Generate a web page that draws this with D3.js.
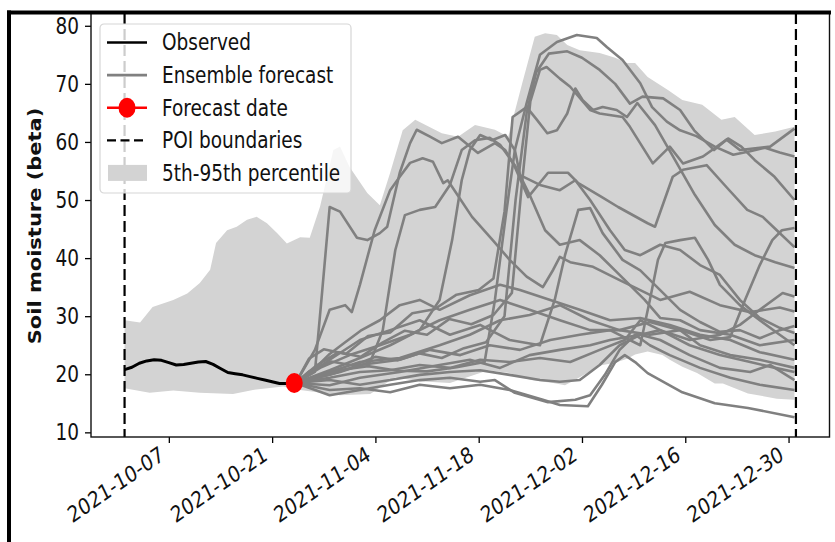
<!DOCTYPE html>
<html>
<head>
<meta charset="utf-8">
<script src="https://cdn.jsdelivr.net/npm/d3@7"></script>
<style>
  body { margin: 0; background: #fff; }
  svg { display: block; font-family: "DejaVu Sans", sans-serif; }
</style>
</head>
<body>
<svg id="chart" width="835" height="542"></svg>
<script>
// period of interest and the forecast issue date
const poiStart = '2021-10-01'
const poiEnd = '2021-12-31'
const forecastDate = '2021-10-24'
const forecastValue = 18.5

// observed soil moisture, one value per day from poiStart
const observed = [20.8, 21.2, 21.9, 22.3, 22.5, 22.4, 22.0, 21.6, 21.7, 21.9, 22.1, 22.2,
  21.7, 21.0, 20.3, 20.1, 19.9, 19.6, 19.3, 19.0, 18.7, 18.4, 18.4, 18.5]

// 5th-95th percentile envelope, [days since poiStart, value]
const bandUpper = [[0, 29.3], [2.1, 28.9], [3.8, 31.6], [6.6, 32.8], [8.5, 33.9], [10.2, 35.7],
  [11.6, 38], [12.4, 42.6], [13.9, 44.8], [15.2, 45.4], [16.6, 46.6], [17.9, 47.1], [19.3, 46],
  [20.7, 44.3], [22, 42.5], [23.8, 43.6], [25.1, 43.5], [26.5, 48.9], [28.3, 58.6], [29.2, 59.2],
  [30.5, 55.7], [32.9, 51.2], [34.6, 49.1], [36, 54.7], [37.7, 62], [39.4, 63.8], [43, 61.5],
  [45.2, 60.9], [47.5, 62.9], [50.2, 62.1], [52, 60.9], [53.9, 70.1], [55.6, 78.1], [57, 78.7],
  [58.6, 78.4], [60, 76.7], [61.7, 75.8], [64.4, 75.3], [66.5, 74.5], [68.1, 73.6], [69.2, 73.6],
  [70.9, 71.2], [73.7, 68.9], [75.6, 67.2], [78.3, 66.4], [80.9, 63.8], [82.7, 64.3], [85.4, 61.2],
  [88.2, 61.8], [90.8, 62.6]]
const bandLower = [[0, 17.6], [3.4, 16.8], [6.6, 17.2], [10.2, 16.8], [14.7, 16.6], [17.4, 17.3],
  [21.5, 17.9], [23.8, 17.3], [29.2, 16.4], [33.3, 16.6], [35.5, 18.5], [36.7, 19.5], [40, 18.8],
  [44.1, 18.5], [49.3, 20.7], [52.2, 20.2], [55.1, 19], [58.1, 18.5], [59.7, 18.1], [61.7, 19.5],
  [64.4, 21.5], [66.5, 22], [68.2, 22.7], [69.2, 23.4], [70.9, 23.9], [72.9, 23.3], [73.9, 22.5],
  [75.6, 21.3], [77.6, 20.2], [80, 18.4], [81.1, 18.4], [84.5, 16.7], [88.4, 15.8], [90.8, 15.6]]

// ensemble members, [days since poiStart, value]
const members = [
  [[23.2, 18.5], [25.8, 20.4], [26.8, 34.5], [27.8, 48.8], [29.2, 48], [31.5, 43.5], [32.9, 43.1], [34.6, 44.3], [35.6, 45.4], [37.3, 54.7], [38.7, 59.8], [39.6, 62.1], [41.4, 60.9], [43, 59.8], [45.2, 60.9], [47.9, 58.1], [50.2, 59.8], [51.6, 58.6], [52.9, 55.7], [54.7, 50.5], [57.4, 54.7], [60.1, 54.7], [61.5, 52.9], [64.7, 50.5], [66.9, 48.8], [70.9, 46], [71.9, 45.4], [74.3, 54], [75.7, 55.2], [78.9, 56], [81.6, 52.2], [84.4, 48.3], [86.5, 47.1], [88.4, 44.8], [90.8, 41.9]],
  [[23.2, 18.5], [26, 19.5], [29, 20.7], [33, 21.4], [37, 20.6], [41, 20.5], [45, 21.2], [48.8, 22.1], [50.2, 32.8], [51.6, 46.6], [52.9, 58.6], [54.5, 66.7], [56.3, 75], [58.6, 77.2], [61.3, 78.4], [64, 77.9], [65.4, 76.3], [67.5, 74.1], [69.9, 70.1], [71.5, 66], [73.5, 63.5], [75.3, 62], [77.5, 61], [80, 59.2], [82.5, 57.8], [84.8, 58.4], [86.8, 59], [88.8, 58.2], [90.8, 57.5]],
  [[23.2, 18.5], [25, 20.5], [28, 22.2], [31, 21.5], [34, 23], [37, 22.4], [40, 23.6], [43, 22.8], [46, 24.5], [49, 25.5], [51.5, 30], [53, 50], [54.5, 65], [55.8, 72], [57.5, 75.2], [60, 75.6], [62, 74.5], [64.4, 72.4], [66.5, 70], [68.5, 66.6], [70.2, 67.8], [73, 67.5], [75.3, 65.5], [77.2, 62], [79.9, 58.6], [81.8, 60.6], [83.6, 59.2], [85.4, 56.9], [88.1, 54], [90.8, 50]],
  [[23.2, 18.5], [26, 21.5], [29, 23.8], [32, 23], [35, 25.5], [38, 27.5], [41, 26.8], [44, 29.5], [47, 28.6], [50, 30.2], [52.5, 34], [53.8, 52], [55, 67], [56.3, 72.4], [57.2, 72.9], [59, 70.9], [60.4, 69.5], [63.1, 65.5], [64.4, 64.9], [67.5, 64.3], [68.5, 62.6], [71.6, 56.3], [73.9, 59.2], [75.7, 56.3], [78.4, 57.5], [81.6, 60.4], [83.4, 58.6], [87.5, 59.2], [90.8, 62.3]],
  [[23.2, 18.5], [25, 22.7], [27, 24.3], [30, 23.5], [33, 26.6], [36, 27.2], [39, 30.5], [42, 31.2], [45, 33.7], [48, 34.5], [50, 36.5], [51.5, 48], [52.6, 64.3], [54.5, 66], [55.9, 63.8], [57.3, 61.5], [58.6, 62], [60, 64.9], [61.1, 69.2], [62.1, 67.2], [63.5, 65.5], [64.8, 66], [66.7, 65.5], [68.1, 64.3], [69.5, 66.7], [71.9, 62.9], [74.6, 56.9], [77.3, 50.9], [80, 45.7], [82.7, 42.3], [85.4, 40.5], [88.2, 39.3], [90.8, 38.3]],
  [[23.2, 18.5], [25.8, 24.2], [27.8, 31.1], [29.9, 31.9], [30.8, 30.7], [31.9, 35.4], [33.9, 44.8], [36, 51.7], [37.3, 54], [38.7, 56.4], [40.4, 57.2], [41.8, 56.6], [43.2, 52.9], [43.8, 53.4], [47.1, 47.1], [49.9, 43.1], [52.2, 39.7], [54.5, 36.8], [56.7, 35], [58.1, 38], [59, 40.2], [60.4, 39.3], [63.5, 38.5], [67.1, 36.2], [69.9, 34.5], [72.6, 32.8], [76.6, 34.2], [80.7, 31.9], [84.8, 30.7], [88.8, 31.5], [90.8, 30.8]],
  [[23.2, 18.5], [29.2, 20.4], [33.3, 22.1], [35, 27.6], [36.7, 41.4], [38, 47.4], [40, 48.3], [42.1, 48.8], [44.1, 52.6], [45.7, 58.6], [47.5, 60.3], [49.5, 60.7], [50.9, 59.5], [52.9, 56], [54.9, 50.9], [57, 44.8], [59, 42.3], [61.7, 43.1], [64.4, 40.5], [67.1, 37.1], [70.5, 32.8], [72.6, 29.7], [75.3, 29.3], [78, 27.6], [82.1, 26.8], [86.1, 25], [90.8, 25.9]],
  [[23.2, 18.5], [27.8, 22.5], [31.9, 25.9], [36, 27.6], [40, 29.3], [44.1, 26.8], [48.2, 28.5], [52.2, 25.9], [56.3, 25], [58.3, 32.8], [59.7, 40.5], [61.5, 48.3], [63.1, 48.6], [64.8, 44.3], [67.5, 39.7], [69.9, 37.9], [72.6, 34.5], [75.3, 31.1], [78, 29], [80.7, 27.3], [83.4, 27.6], [86.1, 26.2], [88.8, 27.6], [90.8, 28.3]],
  [[23.2, 18.5], [27.8, 20.7], [31.9, 22.8], [36, 25], [40, 27.6], [42.7, 32.8], [44.4, 43.1], [45.7, 53.4], [46.8, 58.6], [48.2, 61.2], [49.8, 60.3], [51.6, 61.2], [52.9, 58.6], [53.6, 54.3], [56.3, 52.6], [59, 51.7], [61.1, 53.4], [63.1, 50], [65.8, 44.8], [67.8, 41.4], [69.9, 40.5], [72.6, 42.3], [75.3, 41.4], [78, 38.8], [80.7, 37.1], [83.4, 32.8], [86.1, 29.7], [88.8, 28], [90.8, 27.1]],
  [[23.2, 18.5], [27.8, 19.9], [31.9, 21.6], [37.3, 22.5], [41.4, 24.2], [45.5, 23.3], [49.5, 25], [53.6, 24.2], [57.7, 25.9], [61.7, 26.8], [65.8, 27.6], [69.9, 25], [71.2, 32.8], [72.3, 39.7], [73.3, 42.6], [75.3, 43.1], [77.3, 43.5], [79.1, 39.7], [80.7, 35.4], [83.4, 31.9], [86.1, 29.3], [88.8, 26.8], [90.8, 25]],
  [[23.2, 18.5], [27.8, 20.4], [31.9, 22.1], [37.3, 22.8], [42.7, 25], [46.8, 26.8], [50.9, 29.3], [54.9, 30.2], [59, 31.9], [63.1, 29.3], [67.1, 27.6], [71.2, 26.8], [75.3, 27.6], [79.4, 25.9], [82.1, 26.4], [84.1, 32.8], [86.1, 38.8], [87.8, 43.1], [89.1, 44.8], [90.8, 45.2]],
  [[23.2, 18.5], [27.8, 18.1], [31.9, 19.4], [37.3, 20.4], [42.7, 21.6], [46.8, 22.5], [50.9, 21.1], [54.9, 23.3], [59, 24.2], [63.1, 25], [65.8, 25.9], [69.9, 26.8], [72.6, 27.6], [76.6, 25.9], [80.7, 26.8], [83.4, 28.5], [86.1, 31.1], [89.2, 34], [90.8, 33.4]],
  [[23.2, 18.5], [27.8, 17.3], [31.9, 17.6], [36, 16.9], [40, 18.2], [44.1, 17.6], [48.2, 18.2], [52.2, 17.3], [56.7, 15.6], [59, 14.7], [62.8, 14.5], [64.7, 18.2], [66.5, 22.1], [67.8, 23.3], [69.2, 22.1], [70.9, 20.2], [75.6, 16.9], [80, 15], [84.5, 14.2], [90.8, 12.6]],
  [[23.2, 18.5], [27.8, 16.4], [31.9, 17.3], [36, 18.2], [40, 19], [44.1, 19.4], [48.2, 18.7], [50.2, 19], [52.9, 16.8], [57.4, 15.2], [61.1, 15.6], [63.1, 16.4], [65.1, 19.9], [67.1, 24.2], [69.2, 26.8], [71.2, 25], [73.9, 23.3], [78, 21.1], [82.1, 19.4], [86.1, 18.2], [90.8, 17.3]],
  [[23.2, 18.5], [27.8, 19], [31.9, 18.2], [36, 19], [40, 19.9], [44.1, 20.4], [48.2, 20.7], [52.2, 19.9], [56.3, 19], [59, 18.7], [61.7, 19], [64.4, 21.6], [67.1, 25], [69.9, 26.8], [72.6, 25.9], [76.6, 23.3], [80.7, 21.1], [84.8, 20.4], [87.5, 21.6], [90.8, 19]],
  [[23.2, 18.5], [27.8, 19.4], [31.9, 20.4], [36, 20.7], [40, 21.6], [44.1, 21.1], [48.2, 22.5], [52.2, 22.1], [56.3, 22.8], [60.4, 22.1], [64.4, 24.2], [67.8, 25.9], [69.9, 29.3], [72.6, 27.6], [76.6, 25], [80.7, 23.3], [84.8, 22.1], [88.2, 21.1], [90.8, 20.4]],
  [[23.2, 18.5], [26.5, 21.1], [30.5, 23.3], [34.6, 25], [38.7, 26.8], [42.7, 29.3], [46.8, 31.1], [50.9, 32.8], [54.9, 31.1], [59, 29.3], [63.1, 27.6], [67.1, 27.6], [71.2, 29], [75.3, 27.6], [78, 25], [82.1, 23.3], [86.1, 22.5], [90.8, 21.1]],
  [[23.2, 18.5], [25.8, 21], [27.8, 23.5], [29.9, 25.5], [32, 27.5], [34.6, 29.3], [37.3, 31.9], [40, 32.8], [42.7, 31.1], [46.8, 33.6], [50.9, 35.4], [53.6, 34.5], [57.7, 32.8], [61.7, 31.1], [65.8, 29.3], [69.9, 29.7], [73.9, 28.5], [78, 26.8], [82.1, 25.9], [86.1, 23.8], [90.8, 22.5]]
]

const xTickLabels = ['2021-10-07', '2021-10-21', '2021-11-04', '2021-11-18', '2021-12-02', '2021-12-16', '2021-12-30']
const yTicks = [10, 20, 30, 40, 50, 60, 70, 80]
const legendLabels = ['Observed', 'Ensemble forecast', 'Forecast date', 'POI boundaries', '5th-95th percentile']

const svg = d3.select('#chart')
const sy = 1.2 // the reference picture is stretched vertically
const fontSize = 18.5

const parse = s => new Date(s + 'T00:00:00Z')
const t0 = parse(poiStart).getTime()
const toDate = d => new Date(t0 + d * 864e5)
const pad = 4.55 // matplotlib-like 5% margin, in days
const endDays = (parse(poiEnd).getTime() - t0) / 864e5

const x = d3.scaleUtc().domain([toDate(-pad), toDate(endDays + pad)]).range([91, 829.5])
const y = d3.scaleLinear().domain([9.2, 82.2]).range([437, 13])

const line = d3.line()
  .x((d) => x(toDate(d[0])))
  .y((d) => y(d[1]))

// percentile band
svg.append('path')
  .attr('d', line(bandUpper.concat(bandLower.slice().reverse())) + 'Z')
  .attr('fill', '#d3d3d3')

// ensemble members
svg.append('g')
  .selectAll('path')
  .data(members)
  .join('path')
  .attr('d', line)
  .attr('fill', 'none')
  .attr('stroke', '#808080')
  .attr('stroke-width', 2.6)
  .attr('stroke-linejoin', 'round')

// observed
svg.append('path')
  .attr('d', line(observed.map((v, i) => [i, v])))
  .attr('fill', 'none')
  .attr('stroke', '#000')
  .attr('stroke-width', 3)
  .attr('stroke-linejoin', 'round')

// POI boundaries
svg.append('g')
  .selectAll('line')
  .data([poiStart, poiEnd])
  .join('line')
  .attr('x1', (d) => x(parse(d)))
  .attr('x2', (d) => x(parse(d)))
  .attr('y1', y.range()[1])
  .attr('y2', y.range()[0])
  .attr('stroke', '#000')
  .attr('stroke-width', 2.2)
  .attr('stroke-dasharray', '11,5')

// forecast date marker
svg.append('ellipse')
  .attr('cx', x(parse(forecastDate)))
  .attr('cy', y(forecastValue))
  .attr('rx', 8.5)
  .attr('ry', 10)
  .attr('fill', '#ff0000')

// axes
const xAxis = svg.append('g')
  .attr('transform', `translate(0,${y.range()[0]})`)
  .call(d3.axisBottom(x)
    .tickValues(xTickLabels.map(parse))
    .tickFormat(d3.utcFormat('%Y-%m-%d'))
    .tickSizeOuter(0)
    .tickSize(6))
xAxis.select('.domain').remove()
xAxis.selectAll('.tick line').attr('stroke-width', 1.3)
xAxis.selectAll('text')
  .attr('font-size', fontSize)
  .attr('font-family', '"DejaVu Sans", sans-serif')
  .attr('fill', '#111')
  .attr('text-anchor', 'end')
  .attr('x', 0)
  .attr('y', 0)
  .attr('dy', null)
  .attr('transform', `translate(-4,22) scale(1,${sy}) rotate(-30)`)

const yAxis = svg.append('g')
  .attr('transform', `translate(${x.range()[0]},0)`)
  .call(d3.axisLeft(y).tickValues(yTicks).tickSize(6).tickSizeOuter(0))
yAxis.select('.domain').remove()
yAxis.selectAll('.tick line').attr('stroke-width', 1.3)
yAxis.selectAll('text')
  .attr('font-size', fontSize)
  .attr('font-family', '"DejaVu Sans", sans-serif')
  .attr('fill', '#111')
  .attr('x', -12)
  .attr('dy', '0.34em')
  .attr('transform', `scale(1,${sy})`)

// y label
svg.append('text')
  .attr('transform', `translate(41,226) scale(1,${sy}) rotate(-90)`)
  .attr('text-anchor', 'middle')
  .attr('font-size', 17.5)
  .attr('font-weight', 'bold')
  .attr('fill', '#111')
  .text('Soil moisture (beta)')

// spines
svg.append('rect')
  .attr('x', x.range()[0])
  .attr('y', y.range()[1])
  .attr('width', x.range()[1] - x.range()[0])
  .attr('height', y.range()[0] - y.range()[1])
  .attr('fill', 'none')
  .attr('stroke', '#111')
  .attr('stroke-width', 1.4)

// legend
const lg = svg.append('g').attr('transform', 'translate(100,24)')
lg.append('rect')
  .attr('width', 251)
  .attr('height', 169)
  .attr('rx', 4)
  .attr('fill', '#fff')
  .attr('fill-opacity', 0.8)
  .attr('stroke', '#d6d6d6')
  .attr('stroke-width', 1.2)

const rows = lg.selectAll('g.row')
  .data(legendLabels)
  .join('g')
  .attr('class', 'row')
  .attr('transform', (d, i) => `translate(0,${18.5 + i * 32.6})`)

rows.each(function (d, i) {
  const r = d3.select(this)
  if (i === 4) {
    r.append('rect').attr('x', 8).attr('y', -8).attr('width', 39).attr('height', 16).attr('fill', '#d3d3d3')
  } else {
    r.append('line')
      .attr('x1', 7).attr('x2', 47)
      .attr('stroke', ['#000', '#808080', '#ff0000', '#000'][i])
      .attr('stroke-width', i === 3 ? 2.2 : 2.6)
      .attr('stroke-dasharray', i === 3 ? '9,4.5' : null)
  }
  if (i === 2) r.append('ellipse').attr('cx', 27).attr('rx', 8.5).attr('ry', 10).attr('fill', '#ff0000')
  r.append('text')
    .attr('transform', `translate(62,0) scale(1,${sy})`)
    .attr('dy', '0.36em')
    .attr('font-size', fontSize)
    .attr('fill', '#111')
    .text(d)
})

// outer frame of the picture
svg.append('line').attr('x1', 7).attr('x2', 831).attr('y1', 12.5).attr('y2', 12.5)
  .attr('stroke', '#000').attr('stroke-width', 4)
svg.append('line').attr('x1', 9).attr('x2', 9).attr('y1', 10.5).attr('y2', 542)
  .attr('stroke', '#000').attr('stroke-width', 4)
</script>
</body>
</html>
